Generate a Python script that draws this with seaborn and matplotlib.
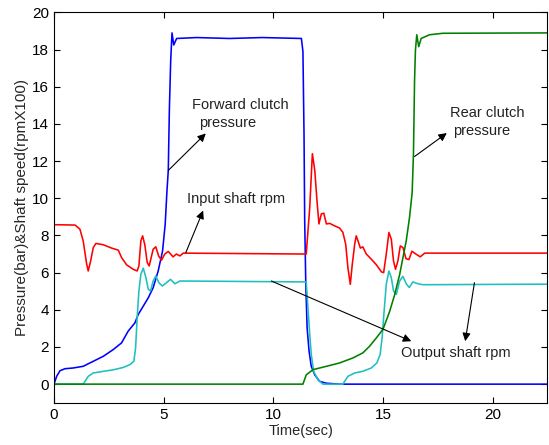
import numpy as np
import pandas as pd
import matplotlib
matplotlib.use('Agg')
import matplotlib.pyplot as plt
import seaborn as sns

# forward clutch pressure (blue)
fwd_t = [0, 0.12, 0.27, 0.5, 0.88, 1.33, 1.79, 2.25, 2.7, 3.08, 3.38, 3.69, 3.84, 4.07, 4.3, 4.52,
         4.75, 4.95, 5.07, 5.15, 5.21, 5.26, 5.32, 5.38, 5.46, 5.59, 6.5, 8.0, 9.5, 11.28, 11.35,
         11.4, 11.43, 11.48, 11.54, 11.63, 11.73, 11.89, 12.11, 12.42, 13.0, 22.5]
fwd_p = [0, 0.42, 0.72, 0.83, 0.87, 0.96, 1.23, 1.5, 1.86, 2.22, 2.85, 3.3, 3.75, 4.2, 4.65, 5.19,
         6.09, 7.17, 8.62, 10.4, 11.5, 14.8, 17.4, 18.9, 18.25, 18.6, 18.65, 18.6, 18.65, 18.6, 17.9,
         13.4, 8.8, 5.4, 3.03, 1.77, 0.96, 0.5, 0.15, 0.05, 0.0, 0.0]

# input shaft rpm (red)
inp_t = [0, 0.96, 1.18, 1.33, 1.49, 1.56, 1.67, 1.79, 1.91, 2.25, 2.63, 2.93, 3.08, 3.31, 3.61,
         3.79, 3.87, 3.96, 4.04, 4.14, 4.25, 4.34, 4.52, 4.64, 4.77, 4.9, 5.05, 5.21, 5.43, 5.58,
         5.74, 5.89, 11.5, 11.66, 11.78, 11.89, 11.99, 12.08, 12.19, 12.3, 12.42, 12.57, 12.79,
         13.02, 13.17, 13.3, 13.4, 13.51, 13.6, 13.71, 13.78, 13.86, 13.97, 14.08, 14.24, 14.47,
         14.7, 14.93, 15.03, 15.15, 15.27, 15.38, 15.48, 15.57, 15.68, 15.79, 15.91, 16.05, 16.18,
         16.32, 16.5, 16.7, 16.9, 22.5]
inp_n = [8.58, 8.56, 8.34, 7.71, 6.45, 6.09, 6.63, 7.35, 7.57, 7.5, 7.32, 7.21, 6.81, 6.42, 6.18,
         6.09, 6.36, 7.71, 7.98, 7.5, 6.54, 6.36, 7.26, 7.39, 6.9, 6.67, 7.0, 7.14, 6.85, 7.0,
         6.9, 7.05, 7.0, 9.5, 12.4, 11.5, 9.88, 8.62, 9.16, 9.2, 8.62, 8.65, 8.52,
         8.4, 8.17, 7.53, 6.27, 5.37, 6.45, 7.53, 7.98, 7.71, 7.32, 7.39, 7.0, 6.72,
         6.42, 6.04, 6.0, 7.0, 8.16, 7.8, 6.63, 6.18, 6.63, 7.44, 7.35, 6.75, 6.7,
         7.15, 7.0, 6.85, 7.05, 7.05]

# output shaft rpm (cyan)
out_t = [0, 1.33, 1.56, 1.79, 2.25, 2.7, 3.16, 3.46, 3.64, 3.72, 3.79, 3.87, 3.96, 4.07, 4.19,
         4.3, 4.4, 4.52, 4.64, 4.78, 4.94, 5.13, 5.31, 5.51, 5.74, 11.5, 11.58, 11.66, 11.73,
         11.84, 12.03, 12.26, 13.17, 13.4, 13.71, 14.08, 14.47, 14.72, 14.87, 14.96, 15.04,
         15.15, 15.27, 15.38, 15.48, 15.61, 15.76, 15.91, 16.06, 16.2, 16.36, 16.6, 16.82, 22.5]
out_n = [0, 0, 0.42, 0.6, 0.69, 0.77, 0.9, 1.05, 1.23, 1.95, 3.57, 5.01, 5.91, 6.24, 5.73,
         5.1, 5.01, 5.55, 5.82, 5.46, 5.28, 5.46, 5.64, 5.4, 5.55, 5.5, 4.1, 2.67, 1.59,
         0.69, 0.24, 0, 0, 0.42, 0.6, 0.69, 0.87, 1.14, 1.59, 2.49, 3.75,
         5.37, 6.09, 5.73, 5.01, 4.83, 5.55, 5.8, 5.4, 5.2, 5.5, 5.4, 5.35, 5.38]

# rear clutch pressure (green)
rear_t = [0, 11.35, 11.5, 11.81, 12.42, 13.02, 13.63, 14.08, 14.39, 14.7, 15.0, 15.3, 15.53,
          15.76, 16.06, 16.21, 16.33, 16.39, 16.44, 16.48, 16.54, 16.63, 16.74, 17.12, 17.73, 22.5]
rear_p = [0, 0, 0.5, 0.78, 0.96, 1.14, 1.41, 1.68, 2.04, 2.49, 2.95, 3.9, 4.8,
          5.9, 7.71, 8.97, 10.3, 12.4, 16.36, 17.97, 18.8, 18.16, 18.6, 18.8, 18.88, 18.9]

sns.set_theme(style='ticks')
plt.rcParams['font.family'] = ['Liberation Sans', 'DejaVu Sans']
plt.rcParams['xtick.direction'] = 'in'
plt.rcParams['ytick.direction'] = 'in'

fig = plt.figure(figsize=(5.49, 4.45), dpi=100)
ax = fig.add_axes([0.0984, 0.095, 0.8988, 0.877])

series = [
    (fwd_t, fwd_p, '#0000FF'),
    (inp_t, inp_n, '#FF0000'),
    (out_t, out_n, '#1FBFBF'),
    (rear_t, rear_p, '#008000'),
]
for t, v, c in series:
    sns.lineplot(x=t, y=v, color=c, linewidth=1.15, sort=False, estimator=None, ax=ax)

ax.set_xlim(0, 22.5)
ax.set_ylim(-1, 20)
ax.set_xticks([0, 5, 10, 15, 20])
ax.set_yticks(np.arange(0, 21, 2))
ax.tick_params(labelsize=11, length=4, width=0.8, top=True, right=True, colors='black')
for s in ax.spines.values():
    s.set_linewidth(0.8)
    s.set_color('black')
ax.set_xlabel('Time(sec)', fontsize=10.5, labelpad=2)
ax.set_ylabel('Pressure(bar)&Shaft speed(rpmX100)', fontsize=11, labelpad=2)

arrow = dict(arrowstyle='-|>', color='black', lw=0.8, mutation_scale=12, shrinkA=0, shrinkB=0)
txt = dict(fontsize=10.5, color='#222222', ha='left', va='center')

ax.text(6.27, 15.0, 'Forward clutch', **txt)
ax.text(6.6, 14.03, 'pressure', **txt)
ax.annotate('', xy=(6.92, 13.49), xytext=(5.21, 11.5), arrowprops=arrow)

ax.text(6.07, 9.97, 'Input shaft rpm', **txt)
ax.annotate('', xy=(6.8, 9.34), xytext=(6.01, 7.08), arrowprops=arrow)

ax.text(18.06, 14.6, 'Rear clutch', **txt)
ax.text(18.18, 13.62, 'pressure', **txt)
ax.annotate('', xy=(17.91, 13.51), xytext=(16.44, 12.25), arrowprops=arrow)

ax.text(15.83, 1.68, 'Output shaft rpm', **txt)
ax.annotate('', xy=(16.29, 2.31), xytext=(9.91, 5.55), arrowprops=arrow)
ax.annotate('', xy=(18.75, 2.31), xytext=(19.17, 5.46), arrowprops=arrow)

fig.savefig('out.png', dpi=100)
